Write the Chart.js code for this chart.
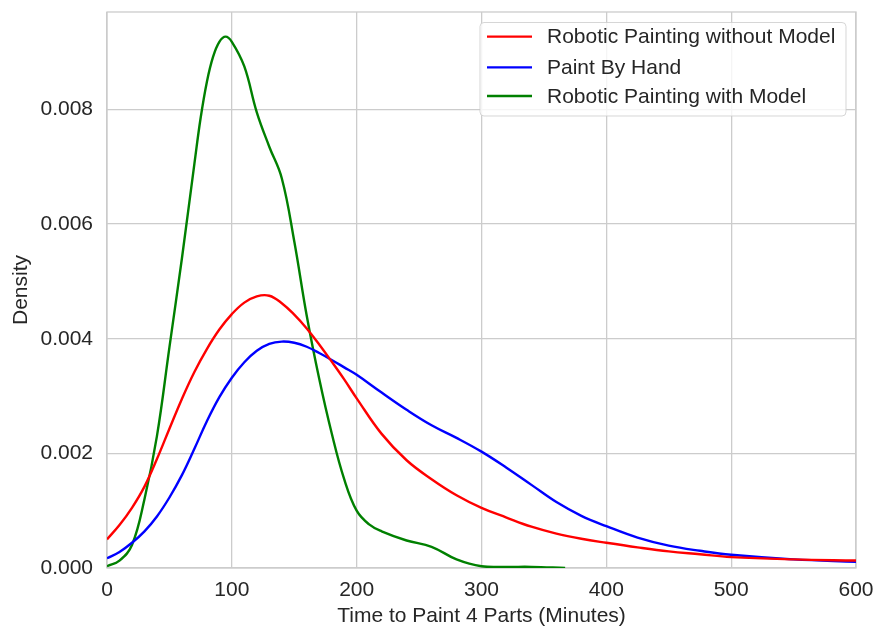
<!DOCTYPE html>
<html lang="en">
  <head>
    <title>Time to Paint 4 Parts</title>
    <script src="https://cdn.jsdelivr.net/npm/chart.js@4.4.1/dist/chart.umd.min.js"></script>
    <style>
      body{
        margin: 0;
        background-color: #ffffff;
      }
      #wrap{
        width: 873px;
        height: 629px;
        position: relative;
      }
    </style>
  </head>
  <body>
    <div id="wrap">
      <canvas id="densityChart"></canvas>
    </div>

    <script>
      // minutes (x) shared by the red and blue curves
      const times = [0, 10, 20, 30, 40, 50, 60, 70, 80, 90, 100, 110, 120, 130, 140, 150, 160, 170, 180, 190,
                     200, 220, 240, 260, 280, 300, 320, 340, 360, 380, 400, 425, 450, 475, 500, 550, 600];
      const withoutModel = [0.00050, 0.00075, 0.00105, 0.00142, 0.00190, 0.00243, 0.00295, 0.00342, 0.00382, 0.00416,
                            0.00443, 0.00463, 0.00474, 0.00475, 0.00462, 0.00442, 0.00418, 0.00390, 0.00360, 0.00329,
                            0.00296, 0.00234, 0.00188, 0.00155, 0.00127, 0.00105, 0.00088, 0.00072, 0.00060, 0.00051,
                            0.00044, 0.00036, 0.00029, 0.00024, 0.00019, 0.00015, 0.00013];
      const byHand = [0.00017, 0.00028, 0.00044, 0.00064, 0.00090, 0.00123, 0.00162, 0.00208, 0.00256, 0.00298,
                      0.00332, 0.00359, 0.00379, 0.00391, 0.00395, 0.00393, 0.00386, 0.00375, 0.00363, 0.00350,
                      0.00337, 0.00306, 0.00276, 0.00249, 0.00227, 0.00203, 0.00175, 0.00145, 0.00115, 0.00091,
                      0.00073, 0.00053, 0.00039, 0.00030, 0.00023, 0.00015, 0.00011];

      // the green curve stops earlier
      const greenTimes = [0, 10, 20, 30, 40, 50, 60, 70, 75, 80, 85, 90, 95, 100, 110, 120, 130, 140, 150, 160,
                          170, 180, 190, 200, 210, 220, 240, 260, 280, 300, 320, 340, 367];
      const withModel = [0.00003, 0.00013, 0.00040, 0.00120, 0.00230, 0.00385, 0.00540, 0.00705, 0.00785, 0.00848,
                         0.00892, 0.00918, 0.00927, 0.00918, 0.00875, 0.00795, 0.00735, 0.00680, 0.00570, 0.00440,
                         0.00330, 0.00235, 0.00155, 0.00100, 0.00076, 0.00064, 0.00048, 0.00037, 0.00015, 0.00003,
                         0.00002, 0.00002, 0.0];

      const seriesNames = ["Robotic Painting without Model", "Paint By Hand", "Robotic Painting with Model"];
      const xTicks = [0, 100, 200, 300, 400, 500, 600];
      const yTicks = [0, 0.002, 0.004, 0.006, 0.008];

      const textColor = "#262626";
      const gridColor = "#cccccc";
      const font = "'Liberation Sans', Arial, sans-serif";

      function pairs(xs, ys) {
        return xs.map((x, i) => ({x: x, y: ys[i]}));
      }

      // light frame round the plot area, like the seaborn spines
      const framePlugin = {
        id: "frame",
        beforeDatasetsDraw(chart) {
          const a = chart.chartArea;
          const ctx = chart.ctx;
          ctx.save();
          ctx.strokeStyle = gridColor;
          ctx.lineWidth = 1.3;
          ctx.strokeRect(a.left, a.top, a.right - a.left, a.bottom - a.top);
          ctx.restore();
        }
      };

      // legend box in the upper right corner
      const legendBoxPlugin = {
        id: "legendBox",
        afterDatasetsDraw(chart) {
          const ctx = chart.ctx;
          const bx = 480, by = 22.5, bw = 366, bh = 93.5;
          ctx.save();
          ctx.beginPath();
          ctx.roundRect(bx, by, bw, bh, 4);
          ctx.fillStyle = "rgba(255,255,255,0.8)";
          ctx.fill();
          ctx.strokeStyle = "rgba(204,204,204,0.8)";
          ctx.lineWidth = 1;
          ctx.stroke();
          ctx.font = "21px " + font;
          ctx.textBaseline = "middle";
          const rows = [36.7, 67.3, 96];
          chart.data.datasets.forEach((ds, i) => {
            ctx.strokeStyle = ds.borderColor;
            ctx.lineWidth = 2.3;
            ctx.beginPath();
            ctx.moveTo(487, rows[i]);
            ctx.lineTo(532, rows[i]);
            ctx.stroke();
            ctx.fillStyle = textColor;
            ctx.fillText(ds.label, 547, rows[i] + 1);
          });
          ctx.restore();
        }
      };

      const lineStyle = {
        pointRadius: 0,
        borderWidth: 2.4,
        tension: 0.4,
        fill: false
      };

      let ctx = document.getElementById("densityChart").getContext("2d");
      let densityChart = new Chart(ctx, {
        type: "line",
        data: {
          datasets: [
            Object.assign({label: seriesNames[0], data: pairs(times, withoutModel), borderColor: "#ff0000"}, lineStyle),
            Object.assign({label: seriesNames[1], data: pairs(times, byHand), borderColor: "#0000ff"}, lineStyle),
            Object.assign({label: seriesNames[2], data: pairs(greenTimes, withModel), borderColor: "#008000"}, lineStyle)
          ]
        },
        options: {
          responsive: true,
          maintainAspectRatio: false,
          animation: false,
          layout: {
            padding: {left: 9, right: 17, top: 12, bottom: 0}
          },
          plugins: {
            legend: {display: false},
            tooltip: {enabled: false}
          },
          scales: {
            x: {
              type: "linear",
              min: 0,
              max: 600,
              afterBuildTicks: (axis) => { axis.ticks = xTicks.map(v => ({value: v})); },
              afterFit: (axis) => { axis.height = 61; axis.paddingLeft = 0; axis.paddingRight = 0; },
              grid: {color: gridColor, lineWidth: 1.3, drawTicks: false},
              border: {display: false},
              ticks: {
                color: textColor,
                font: {family: font, size: 21},
                padding: 10,
                maxRotation: 0
              },
              title: {
                display: true,
                text: "Time to Paint 4 Parts (Minutes)",
                color: textColor,
                font: {family: font, size: 21},
                padding: {top: 3, bottom: 0}
              }
            },
            y: {
              min: 0,
              max: 0.0097,
              afterBuildTicks: (axis) => { axis.ticks = yTicks.map(v => ({value: v})); },
              afterFit: (axis) => { axis.width = 98; axis.paddingTop = 0; axis.paddingBottom = 0; },
              grid: {color: gridColor, lineWidth: 1.3, drawTicks: false},
              border: {display: false},
              ticks: {
                color: textColor,
                font: {family: font, size: 21},
                padding: 14,
                callback: (v) => v.toFixed(3)
              },
              title: {
                display: true,
                text: "Density",
                color: textColor,
                font: {family: font, size: 21},
                padding: {top: 0, bottom: 4}
              }
            }
          }
        },
        plugins: [framePlugin, legendBoxPlugin]
      });
    </script>
  </body>
</html>
